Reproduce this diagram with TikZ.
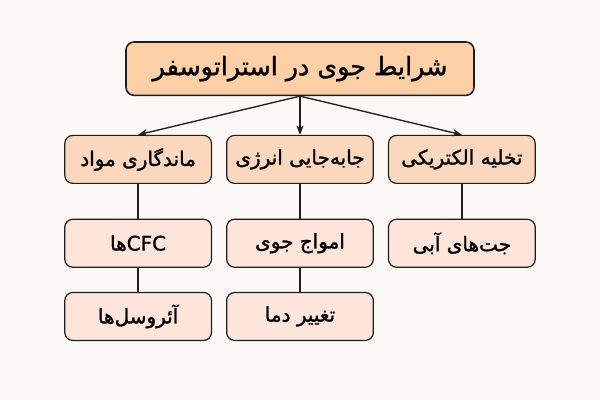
\documentclass[tikz,border=0pt]{standalone}
\usepackage{fontspec}
\usepackage{tikz}
\newfontfamily\farsi[Script=Arabic,FakeBold=1.3]{DejaVu Sans}
\TeXXeTstate=1
\definecolor{stPage}{HTML}{FCF8F6}
\definecolor{stTop}{HTML}{FDCFA7}
\definecolor{stMid}{HTML}{FBD7BE}
\definecolor{stLeaf}{HTML}{FDE5DC}
\definecolor{stLine}{HTML}{1E1E1E}
\usetikzlibrary{positioning,arrows.meta}
\newcommand{\fa}[1]{\farsi\beginR #1\endR}

\begin{document}
\begin{tikzpicture}[node distance=26pt and 10.5pt, card/.style={draw=stLine,line width=0.9pt,rounded corners=6pt,align=center,minimum width=110pt,minimum height=36pt,inner sep=0pt,font=\fontsize{15}{18}\selectfont}, midcard/.style={card,fill=stMid}, leafcard/.style={card,fill=stLeaf}, >={Stealth[length=7pt,width=5.5pt]}]
\fill[stPage] (0,0) rectangle (450pt,300pt);
\useasboundingbox (0,0) rectangle (450pt,300pt);
\node[card,fill=stTop,line width=1.2pt,minimum width=261pt,minimum height=40pt,font=\fontsize{19}{22}\selectfont] (top) at (225pt,248.5pt) {\fa{شرایط جوی در استراتوسفر}};
\node[midcard,below=29pt of top] (energy) {\fa{جابه‌جایی انرژی}};
\node[midcard,left=of energy] (persist) {\fa{ماندگاری مواد}};
\node[midcard,right=of energy] (discharge) {\fa{تخلیه الکتریکی}};
\node[leafcard,below=of persist] (cfc) {\fa{\beginL CFC\endL ها}};
\node[leafcard,below=18pt of cfc] (aerosol) {\fa{آئروسل‌ها}};
\node[leafcard,below=of energy] (waves) {\fa{امواج جوی}};
\node[leafcard,below=18pt of waves] (temp) {\fa{تغییر دما}};
\node[leafcard,below=of discharge] (jets) {\fa{جت‌های آبی}};
\draw[->,line width=1pt,stLine] (top.south)--(persist.north);\draw[->,line width=1pt,stLine] (top.south)--(energy.north);\draw[->,line width=1pt,stLine] (top.south)--(discharge.north);
\draw[line width=1pt,stLine] (persist)--(cfc);\draw[line width=1pt,stLine] (cfc)--(aerosol);
\draw[line width=1pt,stLine] (energy)--(waves);\draw[line width=1pt,stLine] (waves)--(temp);
\draw[line width=1pt,stLine] (discharge)--(jets);
\end{tikzpicture}
\end{document}
